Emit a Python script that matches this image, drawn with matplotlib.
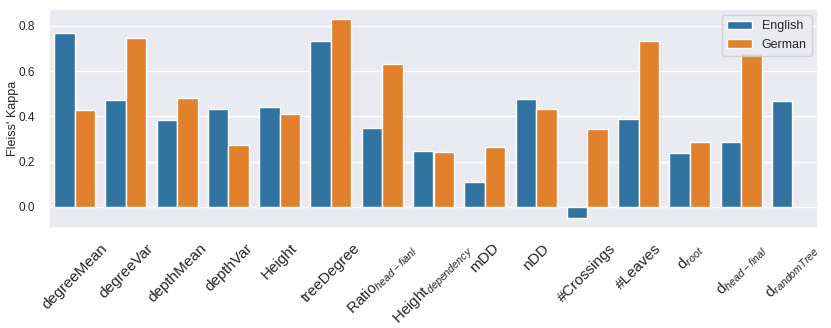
import numpy as np
import pandas as pd
import matplotlib
matplotlib.use("Agg")
import matplotlib.pyplot as plt
import seaborn as sns

metrics = ["degreeMean", "degreeVar", "depthMean", "depthVar", "Height", "treeDegree",
           "Ratio$_{head-fianl}$", "Height$_{dependency}$", "mDD", "nDD", "#Crossings",
           "#Leaves", "d$_{root}$", "d$_{head-final}$", "d$_{randomTree}$"]
english = [0.771, 0.473, 0.384, 0.434, 0.440, 0.732, 0.348, 0.248, 0.112, 0.479,
           -0.047, 0.388, 0.240, 0.286, 0.469]
german = [0.430, 0.749, 0.481, 0.274, 0.410, 0.832, 0.633, 0.242, 0.267, 0.434,
          0.345, 0.735, 0.285, 0.681, np.nan]

df = pd.DataFrame({
    "metric": metrics * 2,
    "kappa": english + german,
    "lang": ["English"] * len(metrics) + ["German"] * len(metrics),
})

sns.set_theme(style="darkgrid")
plt.rcParams["font.family"] = ["Liberation Sans", "DejaVu Sans"]
plt.rcParams["mathtext.fontset"] = "custom"
plt.rcParams["mathtext.rm"] = "Liberation Sans"
plt.rcParams["mathtext.it"] = "Liberation Sans:italic"

fig, ax = plt.subplots(figsize=(8.31, 3.28), dpi=100)
sns.barplot(data=df, x="metric", y="kappa", hue="lang", ax=ax,
            palette=["#1f77b4", "#ff7f0e"], edgecolor="white", linewidth=1)
ax.set_ylim(-0.093, 0.875)
ax.set_xlabel("")
ax.set_ylabel("Fleiss' Kappa", fontsize=9, labelpad=0)
ax.tick_params(axis="y", labelsize=8.5, pad=4)
plt.setp(ax.get_xticklabels(), rotation=45, fontsize=11)
ax.legend(loc="upper right", fontsize=9)
fig.subplots_adjust(left=49 / 831, right=818 / 831, top=1 - 9 / 328, bottom=1 - 228 / 328)
fig.savefig("out.png", dpi=100)
